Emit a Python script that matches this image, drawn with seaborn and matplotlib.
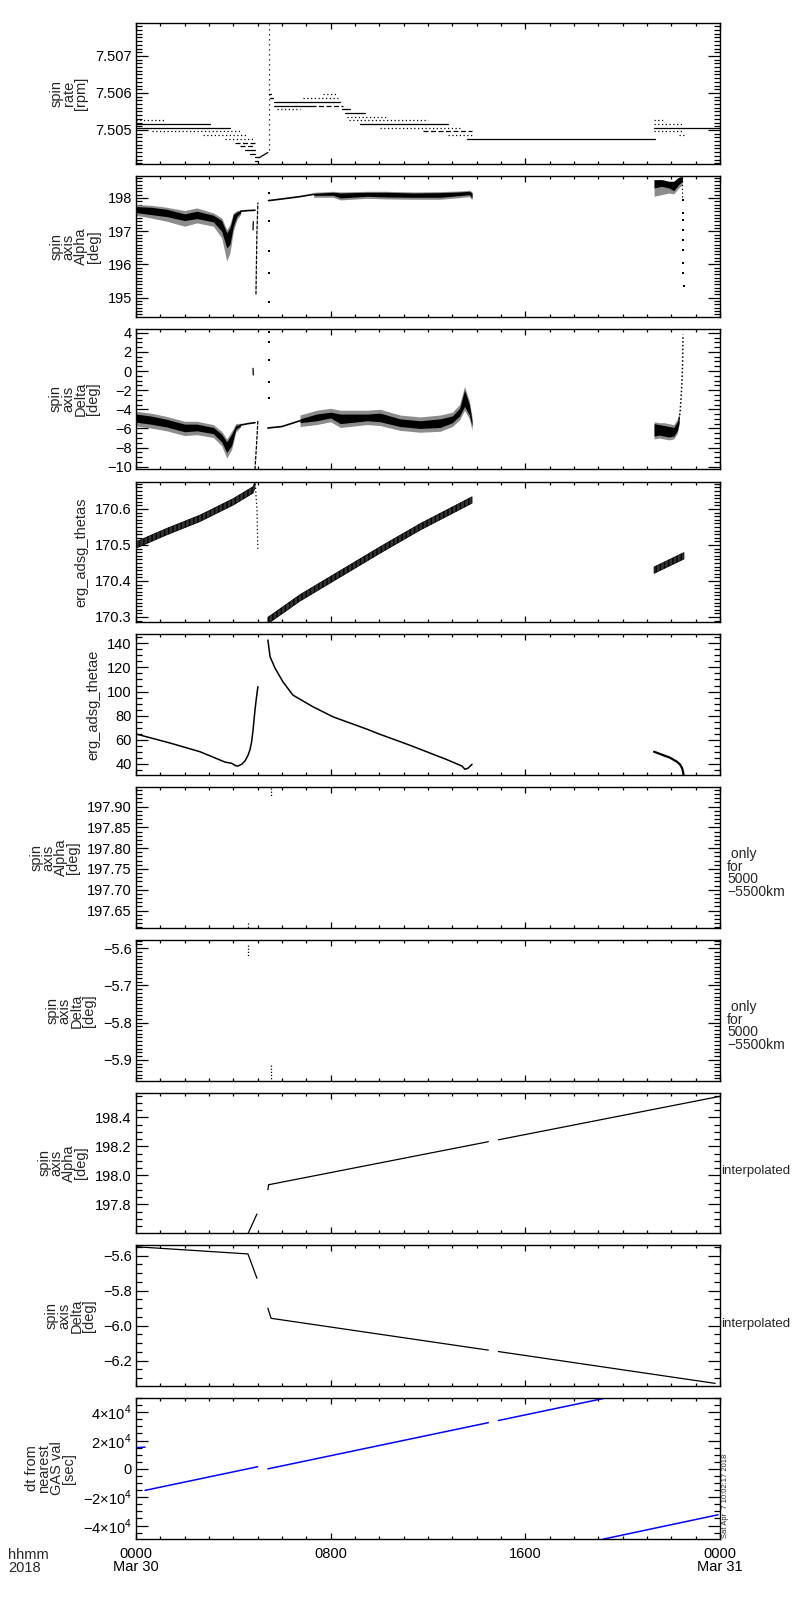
import numpy as np
import pandas as pd
import matplotlib
matplotlib.use("Agg")
import matplotlib.pyplot as plt
import seaborn as sns
from matplotlib.ticker import MultipleLocator, FixedLocator, FuncFormatter

# ---- data (time in hours after 0000 UT, 2018 Mar 30) ----

# spin rate [rpm]: quantised levels, (value, start h, end h)
rate_solid = [
    (7.50516, 0.00, 3.04), (7.50506, 0.00, 3.86), (7.50446, 4.48, 4.89),
    (7.50436, 4.68, 4.89), (7.50426, 4.89, 5.06), (7.50416, 4.89, 5.00),
    (7.50596, 5.45, 5.55), (7.50586, 5.50, 5.63), (7.50576, 5.67, 8.40),
    (7.50566, 5.67, 7.20), (7.50556, 8.45, 8.79), (7.50546, 8.60, 9.41),
    (7.50516, 9.20, 12.82), (7.50476, 13.60, 21.33), (7.50506, 21.29, 24.00),
]
rate_dashed = [
    (7.50466, 4.07, 4.89), (7.50456, 4.27, 4.89), (7.50566, 7.20, 8.51),
    (7.50496, 11.80, 13.81),
]
rate_dotted = [
    (7.50526, 0.00, 1.19), (7.50496, 0.64, 4.27), (7.50486, 2.75, 4.55),
    (7.50476, 3.66, 4.89), (7.50556, 5.80, 6.74), (7.50586, 6.86, 8.40),
    (7.50596, 7.70, 8.20), (7.50536, 8.67, 10.36), (7.50526, 8.75, 12.00),
    (7.50506, 10.03, 13.32), (7.50486, 12.82, 13.81),
    (7.50526, 21.29, 21.74), (7.50516, 21.29, 22.52), (7.50496, 21.29, 22.52),
    (7.50486, 22.30, 22.52),
]
rate_ramp_t = [5.06, 5.42]
rate_ramp = [7.50425, 7.50439]
rate_spike_t = [5.45, 5.45]
rate_spike = [7.50445, 7.50785]

# spin axis Alpha [deg]
alpha_a_t = [0, 0.6, 1.26, 2.0, 2.5, 3.18, 3.52, 3.73, 3.86, 4.0, 4.15, 4.3]
alpha_a_lo = [197.56, 197.50, 197.44, 197.32, 197.38, 197.28, 197.00, 196.50, 196.60, 197.15, 197.45, 197.55]
alpha_a_hi = [197.74, 197.72, 197.66, 197.52, 197.60, 197.48, 197.32, 196.95, 197.10, 197.50, 197.58, 197.62]
alpha_a_olo = [197.48, 197.40, 197.30, 197.15, 197.25, 197.15, 196.80, 196.10, 196.35, 197.00, 197.35, 197.50]
alpha_a_ohi = [197.80, 197.78, 197.72, 197.62, 197.70, 197.55, 197.40, 197.05, 197.20, 197.55, 197.62, 197.64]
alpha_a_line_t = [4.3, 4.6, 4.89]
alpha_a_line = [197.60, 197.62, 197.63]
alpha_drop_t = [4.93, 4.97, 5.01]
alpha_drop = [195.10, 197.00, 197.86]
alpha_stub_t = [4.81, 4.82]
alpha_stub = [197.04, 197.29]
alpha_spike_t = [5.45, 5.45, 5.45, 5.45, 5.45]
alpha_spike = [198.16, 197.31, 196.41, 195.74, 194.88]
alpha_b_line_t = [5.45, 6.0, 6.74, 7.3]
alpha_b_line = [197.92, 197.97, 198.04, 198.11]
alpha_b_t = [7.3, 8.1, 8.4, 9.5, 10.3, 11.4, 12.5, 13.3, 13.7, 13.81]
alpha_b_lo = [198.08, 198.08, 198.00, 198.05, 198.03, 198.02, 198.02, 198.07, 198.10, 198.00]
alpha_b_hi = [198.14, 198.17, 198.15, 198.17, 198.17, 198.15, 198.16, 198.18, 198.20, 198.15]
alpha_c_t = [21.29, 21.6, 21.9, 22.1, 22.3, 22.45]
alpha_c_lo = [198.30, 198.35, 198.30, 198.22, 198.40, 198.50]
alpha_c_hi = [198.55, 198.55, 198.50, 198.50, 198.62, 198.64]
alpha_c_olo = [198.05, 198.10, 198.15, 198.12, 198.30, 198.40]
alpha_fall_t = [22.46, 22.47, 22.47, 22.48, 22.48, 22.48, 22.49, 22.49, 22.5]
alpha_fall = [197.94, 197.55, 197.34, 197.04, 196.73, 196.43, 196.04, 195.74, 195.35]

# spin axis Delta [deg]
delta_a_t = [0, 0.6, 1.26, 2.0, 2.5, 3.18, 3.52, 3.73, 3.93, 4.1, 4.3]
delta_a_lo = [-5.35, -5.55, -5.85, -6.35, -6.25, -6.55, -7.40, -8.50, -7.80, -6.10, -5.75]
delta_a_hi = [-4.50, -4.70, -5.05, -5.55, -5.55, -5.90, -6.60, -7.40, -6.60, -5.70, -5.55]
delta_a_olo = [-5.75, -5.95, -6.25, -6.75, -6.65, -6.95, -7.80, -9.10, -8.20, -6.40, -5.85]
delta_a_ohi = [-4.20, -4.40, -4.75, -5.25, -5.25, -5.60, -6.30, -7.10, -6.30, -5.50, -5.45]
delta_a_line_t = [4.3, 4.6, 4.89]
delta_a_line = [-5.65, -5.50, -5.40]
delta_drop_t = [4.89, 4.97, 5.01]
delta_drop = [-10.3, -7.0, -5.1]
delta_stub_t = [4.81, 4.82]
delta_stub = [0.28, -0.42]
delta_spike_t = [5.45, 5.45, 5.45, 5.45, 5.45]
delta_spike = [4.10, 3.06, 1.15, -1.12, -2.86]
delta_b_line_t = [5.42, 6.0, 6.74]
delta_b_line = [-5.96, -5.80, -5.20]
delta_b_t = [6.74, 7.42, 8.0, 8.4, 9.5, 10.03, 10.85, 11.67, 12.5, 13.0, 13.3, 13.5, 13.7, 13.81]
delta_b_lo = [-5.4, -5.2, -4.9, -5.5, -5.2, -5.3, -5.8, -6.0, -5.9, -5.4, -4.7, -3.7, -4.6, -5.8]
delta_b_hi = [-5.0, -4.5, -4.3, -4.5, -4.5, -4.4, -5.0, -5.2, -5.0, -4.7, -3.9, -2.0, -3.5, -5.2]
delta_c_t = [21.29, 21.5, 21.7, 21.9, 22.1, 22.25, 22.32]
delta_c_lo = [-6.8, -6.7, -6.8, -6.9, -6.8, -6.2, -5.4]
delta_c_hi = [-5.5, -5.6, -5.7, -5.8, -5.9, -5.3, -4.6]
delta_c_olo = [-7.1, -7.0, -7.1, -7.2, -7.1, -6.5, -5.6]
delta_c_ohi = [-5.3, -5.4, -5.4, -5.5, -5.6, -5.0, -4.4]
delta_rise_t = [22.32, 22.36, 22.42, 22.46, 22.48]
delta_rise = [-5.0, -4.3, -2.0, 0.5, 3.8]

# erg_adsg_thetas
thetas_a_t = [0, 1.26, 2.63, 4.0, 4.81, 4.89]
thetas_a = [170.500, 170.537, 170.574, 170.620, 170.653, 170.667]
thetas_drop_t = [4.89, 4.97, 5.01]
thetas_drop = [170.680, 170.600, 170.485]
thetas_b_t = [5.42, 6.74, 8.10, 10.03, 11.67, 13.81]
thetas_b = [170.290, 170.353, 170.408, 170.486, 170.550, 170.625]
thetas_c_t = [21.29, 22.52]
thetas_c = [170.430, 170.470]

# erg_adsg_thetae
thetae_a_t = [0, 1.4, 2.63, 3.66, 3.93, 4.1, 4.19, 4.35, 4.48, 4.6, 4.68, 4.75, 4.81, 4.89, 4.95, 5.01]
thetae_a = [64.8, 57.3, 50.1, 41.5, 40.5, 38.5, 38.2, 39.8, 42.5, 47.0, 51.5, 58.0, 68.0, 84.7, 95.0, 104.0]
thetae_b_t = [5.42, 5.51, 5.71, 6.04, 6.45, 7.27, 8.10, 9.49, 10.03, 10.85, 11.38, 12.78, 13.40, 13.52, 13.65, 13.81]
thetae_b = [142.7, 128.9, 119.5, 108.0, 97.0, 87.4, 79.0, 68.8, 64.5, 58.5, 54.5, 43.5, 38.2, 35.5, 36.5, 39.7]
thetae_c_t = [21.29, 21.95, 22.23, 22.36, 22.44, 22.48, 22.50]
thetae_c = [50.1, 45.1, 41.8, 39.5, 36.6, 33.5, 30.8]

# spin axis Alpha / Delta only for 5000-5500 km
alpha_km_t = [[4.60, 4.60], [5.53, 5.53]]
alpha_km = [[197.620, 197.608], [197.944, 197.925]]
delta_km_t = [[4.60, 4.60], [5.53, 5.53]]
delta_km = [[-5.591, -5.623], [-5.914, -5.955]]

# interpolated spin axis
alpha_int_t = [[4.50, 4.97], [5.42, 5.45, 14.48], [14.89, 24.0]]
alpha_int = [[197.560, 197.733], [197.900, 197.935, 198.232], [198.245, 198.545]]
delta_int_t = [[0.0, 4.60, 4.97], [5.42, 5.55, 14.48], [14.89, 23.80]]
delta_int = [[-5.549, -5.590, -5.729], [-5.900, -5.958, -6.140], [-6.148, -6.330]]

# dt from nearest GAS value [sec]
dt_t = [[0.0, 0.37], [0.37, 5.00], [5.42, 14.48], [14.89, 19.22], [19.20, 23.92]]
dt_val = [[15000, 15300], [-15200, 1500], [0, 32600], [34090, 49700], [-49600, -32400]]

# ---- style ----
sns.set_theme(style="ticks")
plt.rcParams["font.family"] = ["Liberation Sans", "DejaVu Sans"]
plt.rcParams.update({
    "axes.linewidth": 1.0,
    "axes.edgecolor": "black",
    "xtick.color": "black",
    "ytick.color": "black",
    "font.size": 10,
    "mathtext.fontset": "custom",
    "mathtext.rm": "Liberation Sans",
})

W, H = 800, 1600
fig = plt.figure(figsize=(W / 100, H / 100), dpi=100)
tops = [23, 176, 329, 482, 634, 787, 940, 1093, 1245, 1398]
bots = [164, 317, 469, 622, 775, 928, 1081, 1233, 1386, 1539]
axes = []
for t, b in zip(tops, bots):
    axes.append(fig.add_axes([136 / W, 1 - b / H, 584 / W, (b - t) / H]))


def line(ax, t, v, color="black", ls="-", lw=0.9):
    sns.lineplot(x=t, y=v, ax=ax, color=color, linestyle=ls, linewidth=lw,
                 estimator=None, sort=False, legend=False)


def dots(ax, t, v, s=3):
    sns.scatterplot(x=t, y=v, ax=ax, color="black", s=s, marker="s",
                    linewidth=0, legend=False)


def band(ax, t, lo, hi, color="black"):
    ax.fill_between(t, lo, hi, color=color, linewidth=0)


# panel 1: spin rate
ax = axes[0]
for v, a, b in rate_solid:
    line(ax, [a, b], [v, v], lw=0.9)
for v, a, b in rate_dashed:
    line(ax, [a, b], [v, v], ls=(0, (4, 2)), lw=0.9)
for v, a, b in rate_dotted:
    line(ax, [a, b], [v, v], ls=(0, (1, 2)), lw=0.9)
line(ax, rate_ramp_t, rate_ramp)
line(ax, rate_spike_t, rate_spike, ls=(0, (1, 3)), lw=0.9)

# panel 2: spin axis Alpha
ax = axes[1]
band(ax, alpha_a_t, alpha_a_olo, alpha_a_ohi, color="0.55")
band(ax, alpha_a_t, alpha_a_lo, alpha_a_hi)
line(ax, alpha_a_line_t, alpha_a_line, lw=1.2)
line(ax, alpha_drop_t, alpha_drop, ls=(0, (3, 1)))
line(ax, alpha_stub_t, alpha_stub)
dots(ax, alpha_spike_t, alpha_spike)
line(ax, alpha_b_line_t, alpha_b_line, lw=1.2)
band(ax, alpha_b_t, [v - 0.06 for v in alpha_b_lo], [v + 0.03 for v in alpha_b_hi], color="0.55")
band(ax, alpha_b_t, alpha_b_lo, alpha_b_hi)
band(ax, alpha_c_t, alpha_c_olo, alpha_c_hi, color="0.55")
band(ax, alpha_c_t, alpha_c_lo, alpha_c_hi)
line(ax, [22.45, 22.45], [198.62, 198.0], ls=(0, (1, 2)))
dots(ax, alpha_fall_t, alpha_fall)

# panel 3: spin axis Delta
ax = axes[2]
band(ax, delta_a_t, delta_a_olo, delta_a_ohi, color="0.55")
band(ax, delta_a_t, delta_a_lo, delta_a_hi)
line(ax, delta_a_line_t, delta_a_line, lw=1.2)
line(ax, delta_drop_t, delta_drop, ls=(0, (3, 1)))
line(ax, delta_stub_t, delta_stub)
dots(ax, delta_spike_t, delta_spike)
line(ax, delta_b_line_t, delta_b_line, lw=1.2)
band(ax, delta_b_t, [v - 0.4 for v in delta_b_lo], [v + 0.4 for v in delta_b_hi], color="0.55")
band(ax, delta_b_t, delta_b_lo, delta_b_hi)
band(ax, delta_c_t, delta_c_olo, delta_c_ohi, color="0.55")
band(ax, delta_c_t, delta_c_lo, delta_c_hi)
line(ax, delta_rise_t, delta_rise, ls=(0, (1, 1.5)), lw=1.1)

# panel 4: thetas (thick hatched trace)
ax = axes[3]
for tt, vv in [(thetas_a_t, thetas_a), (thetas_b_t, thetas_b), (thetas_c_t, thetas_c)]:
    ax.fill_between(tt, [v - 0.009 for v in vv], [v + 0.009 for v in vv],
                    facecolor="0.2", edgecolor="black", hatch="||||", linewidth=0.5)
line(ax, thetas_drop_t, thetas_drop, ls=(0, (1, 2)))

# panel 5: thetae
ax = axes[4]
line(ax, thetae_a_t, thetae_a, lw=1.1)
line(ax, thetae_b_t, thetae_b, lw=1.1)
line(ax, thetae_c_t, thetae_c, lw=1.6)

# panels 6, 7: only for 5000-5500 km
for tt, vv in zip(alpha_km_t, alpha_km):
    line(axes[5], tt, vv, ls=(0, (1, 1.5)))
for tt, vv in zip(delta_km_t, delta_km):
    line(axes[6], tt, vv, ls=(0, (1, 1.5)))

# panels 8, 9: interpolated
for tt, vv in zip(alpha_int_t, alpha_int):
    line(axes[7], tt, vv)
for tt, vv in zip(delta_int_t, delta_int):
    line(axes[8], tt, vv)

# panel 10: dt from nearest GAS value
for tt, vv in zip(dt_t, dt_val):
    line(axes[9], tt, vv, color="#0000ff", lw=1.1)

# ---- axes ----
ylims = [(7.50408, 7.50789), (194.42, 198.66), (-10.24, 4.39), (170.286, 170.675),
         (30.8, 147.7), (197.608, 197.947), (-5.957, -5.578), (197.602, 198.568),
         (-6.345, -5.539), (-49500, 50000)]
majors = [[7.505, 7.506, 7.507], [195, 196, 197, 198], list(range(-10, 5, 2)),
          [170.3, 170.4, 170.5, 170.6], [40, 60, 80, 100, 120, 140],
          [197.65, 197.70, 197.75, 197.80, 197.85, 197.90], [-5.9, -5.8, -5.7, -5.6],
          [197.8, 198.0, 198.2, 198.4], [-6.2, -6.0, -5.8, -5.6],
          [-40000, -20000, 0, 20000, 40000]]
minors = [0.0001, 0.1, 0.5, 0.01, 5, 0.01, 0.01, 0.05, 0.05, 5000]
fmts = ["%.3f", "%d", "%d", "%.1f", "%d", "%.2f", "%.1f", "%.1f", "%.1f", None]
ylabels = ["spin\nrate\n[rpm]", "spin\naxis\nAlpha\n[deg]", "spin\naxis\nDelta\n[deg]",
           "erg_adsg_thetas", "erg_adsg_thetae", "spin\naxis\nAlpha\n[deg]",
           "spin\naxis\nDelta\n[deg]", "spin\naxis\nAlpha\n[deg]", "spin\naxis\nDelta\n[deg]",
           "dt from\nnearest\nGAS val\n[sec]"]


def sci(v, pos):
    if abs(v) < 1:
        return "0"
    n = int(round(abs(v) / 1e4))
    sign = "\u2212" if v < 0 else ""
    return f"{sign}{n}\u00d710$^{{4}}$"


def minus_fmt(fmt):
    return FuncFormatter(lambda v, pos: (fmt % v).replace("-", "\u2212"))


for i, ax in enumerate(axes):
    ax.set_xlim(0, 24)
    ax.set_ylim(*ylims[i])
    ax.xaxis.set_major_locator(FixedLocator([0, 8, 16, 24]))
    ax.xaxis.set_minor_locator(MultipleLocator(1))
    ax.yaxis.set_major_locator(FixedLocator(majors[i]))
    ax.yaxis.set_minor_locator(MultipleLocator(minors[i]))
    if fmts[i]:
        ax.yaxis.set_major_formatter(minus_fmt(fmts[i]))
    else:
        ax.yaxis.set_major_formatter(FuncFormatter(sci))
    ax.tick_params(axis="both", which="both", direction="in", top=True, right=True,
                   labelsize=10.5, width=0.9)
    ax.tick_params(axis="y", which="major", length=8.5, pad=3)
    ax.tick_params(axis="y", which="minor", length=4.3)
    ax.tick_params(axis="x", which="major", length=4.5, pad=6)
    ax.tick_params(axis="x", which="minor", length=2.2)
    ax.set_ylabel(ylabels[i], fontsize=10.5, linespacing=0.85, labelpad=5)
    ax.set_xlabel("")
    if i < 9:
        ax.set_xticklabels([])
    for s in ax.spines.values():
        s.set_linewidth(1.0)
        s.set_color("black")

axes[9].set_xticklabels(["0000\nMar 30", "0800", "1600", "0000\nMar 31"], linespacing=0.9)

for i in (5, 6):
    axes[i].text(1.012, 0.39, " only\nfor\n5000\n\u22125500km", transform=axes[i].transAxes,
                 ha="left", va="center", fontsize=10, linespacing=0.85)
for i in (7, 8):
    axes[i].text(1.002, 0.44, "interpolated", transform=axes[i].transAxes,
                 ha="left", va="center", fontsize=9.5)

fig.text(8 / W, 1 - 1548 / H, "hhmm\n2018", ha="left", va="top", fontsize=10.5, linespacing=0.9)
fig.text(722 / W, 1 - 1538 / H, "Sat Apr  7 10:02:17 2018", rotation=90,
         ha="left", va="bottom", fontsize=5.5)

fig.savefig("out.png", dpi=100, facecolor="white")
